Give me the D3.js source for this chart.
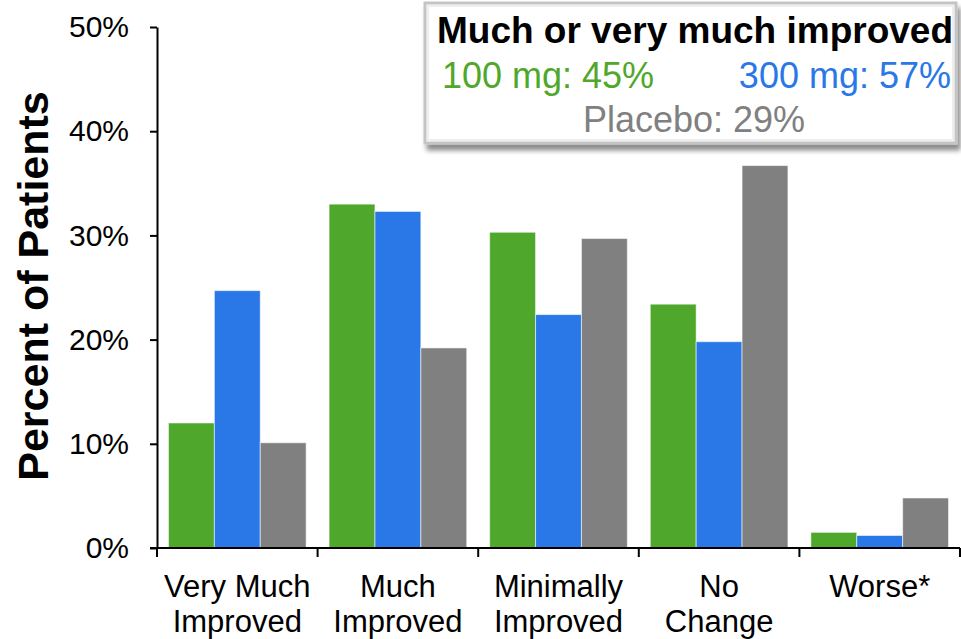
<!DOCTYPE html>
<html>
<head>
<meta charset="utf-8">
<script src="https://cdn.jsdelivr.net/npm/d3@7"></script>
<style>
body { margin: 0; background: #fff; }
text { font-family: Arial, "Liberation Sans", sans-serif; }
</style>
</head>
<body>
<script>
var width = 961;
var height = 639;

// data
var categories = ["Very Much|Improved", "Much|Improved", "Minimally|Improved", "No|Change", "Worse*"]
var series = ["100 mg", "300 mg", "Placebo"]
var colors = ["#4fa72b", "#2a78e8", "#808080"]
var dose100 = [12.0, 33.0, 30.3, 23.4, 1.5]
var dose300 = [24.7, 32.3, 22.4, 19.8, 1.2]
var placebo = [10.1, 19.2, 29.7, 36.7, 4.8]
var yTicks = [0, 10, 20, 30, 40, 50]
var legendTitle = "Much or very much improved"
var legendItems = ["100 mg: 45%", "300 mg: 57%", "Placebo: 29%"]

var values = [dose100, dose300, placebo]

// plot area (note: "top" is taken by window.top)
var plotLeft = 157, plotRight = 960, plotTop = 27, plotBottom = 548

var x = d3.scaleBand()
.domain(categories)
.range([plotLeft, plotRight])
.padding(0);

var xInner = d3.scaleBand()
.domain(series)
.range([0, x.bandwidth()])
.paddingInner(0)
.paddingOuter(0.25);

var y = d3.scaleLinear()
.domain([0, 50])
.range([plotBottom, plotTop]);

var svg = d3.select("body").append("svg")
.attr("width", width)
.attr("height", height)

var defs = svg.append("defs")
var filt = defs.append("filter").attr("id", "shadow")
.attr("x", "-5%").attr("y", "-5%").attr("width", "115%").attr("height", "125%")
filt.append("feDropShadow")
.attr("dx", 3).attr("dy", 6).attr("stdDeviation", 2.5)
.attr("flood-color", "#000").attr("flood-opacity", 0.45)

// bars
series.forEach(function(s, si) {
    svg.append("g")
    .selectAll("rect")
    .data(values[si])
    .enter().append("rect")
    .attr("x", function(d, i) { return x(categories[i]) + xInner(s) })
    .attr("y", function(d) { return y(d) })
    .attr("width", xInner.bandwidth())
    .attr("height", function(d) { return y(0) - y(d) })
    .style("fill", colors[si])
    .style("stroke", "rgba(255,255,255,0.55)")
    .style("stroke-width", 1)
})

// y axis
var yAxis = svg.append("g")
.attr("transform", "translate(" + plotLeft + ",0)")
.call(d3.axisLeft(y)
    .tickValues(yTicks)
    .tickFormat(function(d) { return d + "%" })
    .tickSize(7)
    .tickSizeOuter(0)
    .tickPadding(21));
yAxis.selectAll("path, line").attr("stroke", "#000").attr("stroke-width", 2)
yAxis.selectAll("text").style("font-size", "30px").attr("fill", "#000")

// x axis: line with ticks at the band edges
var xAxis = svg.append("g")
xAxis.append("line")
.attr("x1", plotLeft - 7).attr("x2", plotRight)
.attr("y1", y(0)).attr("y2", y(0))
.attr("stroke", "#000").attr("stroke-width", 2)
var edges = categories.map(function(c) { return x(c) }).concat([x.range()[1]])
xAxis.selectAll(".edge")
.data(edges)
.enter().append("line")
.attr("x1", function(d) { return d }).attr("x2", function(d) { return d })
.attr("y1", y(0)).attr("y2", y(0) + 9)
.attr("stroke", "#000").attr("stroke-width", 2)

var labels = xAxis.selectAll(".lab")
.data(categories)
.enter().append("text")
.attr("text-anchor", "middle")
.style("font-size", "31px")
.attr("fill", "#000")
labels.each(function(c) {
    var t = d3.select(this)
    c.split("|").forEach(function(line, li) {
        t.append("tspan")
        .attr("x", x(c) + x.bandwidth() / 2)
        .attr("y", 597 + li * 35)
        .text(line)
    })
})

// y axis title
svg.append("text")
.attr("transform", "translate(48," + 286 + ") rotate(-90)")
.attr("text-anchor", "middle")
.style("font-size", "43px")
.style("font-weight", "bold")
.text("Percent of Patients")

// legend box
var lg = svg.append("g")
lg.append("rect")
.attr("x", 425).attr("y", 3)
.attr("width", 531).attr("height", 140)
.attr("fill", "#fff")
.attr("stroke", "#c4c4c4")
.attr("stroke-width", 3)
.attr("filter", "url(#shadow)")
lg.append("rect")
.attr("x", 428).attr("y", 6)
.attr("width", 525).attr("height", 134)
.attr("fill", "none")
.attr("stroke", "#eeeeee")
.attr("stroke-width", 2)

lg.append("text")
.attr("x", 695).attr("y", 43)
.attr("text-anchor", "middle")
.style("font-size", "37px")
.style("font-weight", "bold")
.text(legendTitle)
lg.append("text")
.attr("x", 442).attr("y", 88)
.style("font-size", "36px")
.attr("fill", colors[0])
.text(legendItems[0])
lg.append("text")
.attr("x", 951).attr("y", 88)
.attr("text-anchor", "end")
.style("font-size", "36px")
.attr("fill", colors[1])
.text(legendItems[1])
lg.append("text")
.attr("x", 694).attr("y", 132)
.attr("text-anchor", "middle")
.style("font-size", "36px")
.attr("fill", colors[2])
.text(legendItems[2])
</script>
</body>
</html>
